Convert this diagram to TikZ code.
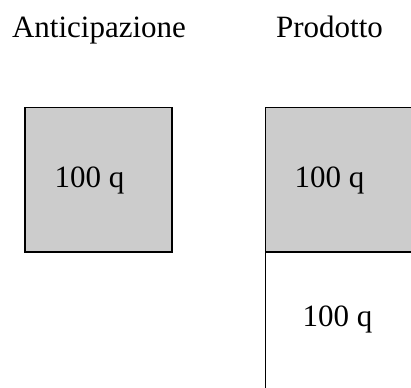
\documentclass[tikz,border=0pt]{standalone}
\usepackage{fontspec}
\setmainfont{Liberation Serif}
\definecolor{boxgray}{RGB}{204,204,204}
\begin{document}
\begin{tikzpicture}[x=1pt,y=-1pt,
  lbl/.style={anchor=base,inner sep=0pt,font=\fontsize{31}{36}\selectfont},
  edge/.style={draw=black,line width=1.5pt}]
\useasboundingbox (0,0) rectangle (411,387);
\begin{scope}
\clip (0,0) rectangle (411,387);
% left box
\fill[boxgray] (25,107.5) rectangle (172,252);
\draw[edge] (25,107.5) rectangle (172,252);
% right box (cut off at right edge)
\fill[boxgray] (265.5,107.5) rectangle (415,252);
\draw[edge] (415,107.5) -- (265.5,107.5) -- (265.5,390);
\draw[edge] (265.5,252) -- (415,252);
\end{scope}
\node[lbl] (ant) at (99,37.5) {Anticipazione};
\node[lbl] (prod) at (329.5,37.5) {Prodotto};
\node[lbl] (q1) at (89.5,187) {100 q};
\node[lbl] (q2) at (329.5,187.5) {100 q};
\node[lbl] (q3) at (337.5,326) {100 q};
\end{tikzpicture}
\end{document}
